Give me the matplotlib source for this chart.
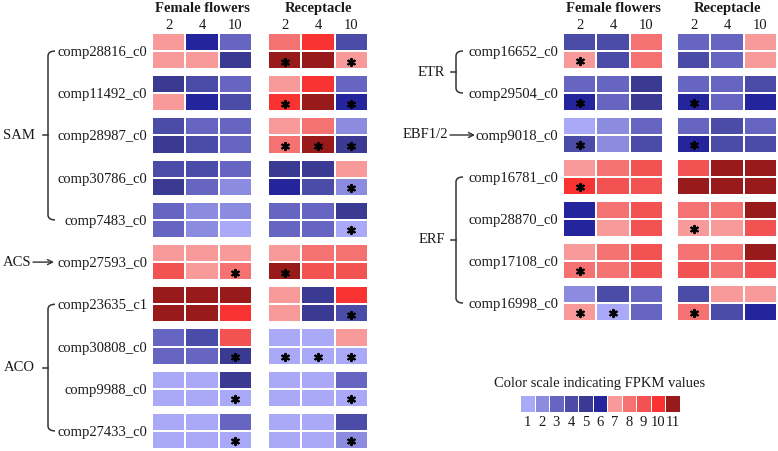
import matplotlib
matplotlib.use("Agg")
import matplotlib.pyplot as plt
from matplotlib.colors import ListedColormap, BoundaryNorm
from matplotlib.path import Path
from matplotlib.patches import PathPatch
import numpy as np

plt.rcParams['font.family'] = ['Liberation Serif', 'DejaVu Serif']

# ---------------- data ----------------
scale_colors = ["#A9A9F7", "#8B8BE0", "#6666C2", "#4B4BA8", "#3A3A92", "#24249C",
                "#F99A9A", "#F57272", "#F25252", "#F93232", "#981A1A"]
scale_values = list(range(1, 12))
time_labels = ["2", "4", "10"]
tissues = ["Female flowers", "Receptacle"]

left_genes = ["comp28816_c0", "comp11492_c0", "comp28987_c0", "comp30786_c0", "comp7483_c0",
              "comp27593_c0", "comp23635_c1", "comp30808_c0", "comp9988_c0", "comp27433_c0"]
left_female = [
    [[7, 6, 3], [7, 7, 5]],
    [[5, 4, 3], [7, 6, 4]],
    [[4, 3, 3], [5, 4, 3]],
    [[4, 4, 3], [5, 3, 2]],
    [[3, 2, 2], [3, 2, 1]],
    [[7, 7, 7], [9, 7, 8]],
    [[11, 11, 11], [11, 11, 10]],
    [[3, 4, 9], [3, 3, 5]],
    [[1, 1, 5], [1, 1, 1]],
    [[1, 1, 3], [1, 1, 1]],
]
left_recept = [
    [[8, 10, 4], [11, 11, 7]],
    [[7, 10, 3], [10, 11, 6]],
    [[7, 8, 2], [8, 11, 5]],
    [[5, 5, 7], [6, 4, 2]],
    [[3, 3, 5], [3, 3, 1]],
    [[7, 8, 8], [11, 9, 9]],
    [[7, 5, 10], [7, 5, 4]],
    [[1, 1, 7], [1, 1, 1]],
    [[1, 1, 3], [1, 1, 1]],
    [[1, 1, 4], [1, 1, 2]],
]
# columns marked with * (second row of each gene)
left_female_sig = [[], [], [], [], [], [2], [], [2], [2], [2]]
left_recept_sig = [[0, 2], [0, 2], [0, 1, 2], [2], [2], [0], [2], [0, 1, 2], [2], [2]]

right_genes = ["comp16652_c0", "comp29504_c0", "comp9018_c0", "comp16781_c0",
               "comp28870_c0", "comp17108_c0", "comp16998_c0"]
right_female = [
    [[4, 4, 8], [7, 4, 8]],
    [[3, 3, 5], [6, 3, 5]],
    [[1, 2, 3], [4, 2, 4]],
    [[7, 8, 9], [10, 9, 9]],
    [[6, 8, 9], [6, 7, 9]],
    [[7, 8, 9], [8, 8, 9]],
    [[2, 4, 3], [7, 1, 3]],
]
right_recept = [
    [[3, 3, 7], [4, 3, 7]],
    [[3, 3, 4], [6, 3, 6]],
    [[3, 4, 3], [6, 4, 4]],
    [[9, 11, 11], [11, 11, 11]],
    [[8, 8, 11], [7, 7, 9]],
    [[8, 8, 11], [9, 8, 9]],
    [[4, 7, 7], [8, 4, 6]],
]
right_female_sig = [[0], [0], [0], [0], [], [0], [0, 1]]
right_recept_sig = [[], [0], [0], [], [0], [], [0]]

# group name, first gene index, last gene index, kind
left_groups = [("SAM", 0, 4, "brace"), ("ACS", 5, 5, "arrow"), ("ACO", 6, 9, "brace")]
right_groups = [("ETR", 0, 1, "brace"), ("EBF1/2", 2, 2, "arrow"), ("ERF", 3, 6, "brace")]

legend_title = "Color scale indicating FPKM values"

# ---------------- figure ----------------
W, H = 778, 451
fig = plt.figure(figsize=(W / 100, H / 100), dpi=100)
ov = fig.add_axes([0, 0, 1, 1])
ov.set_xlim(0, W)
ov.set_ylim(H, 0)
ov.axis('off')

cmap = ListedColormap(scale_colors)
norm = BoundaryNorm(np.arange(0.5, 12.5, 1), cmap.N)
GAP = 1 / 3
FS = 10.5
TXT = '#1a1a1a'


def px_axes(x0, y0, x1, y1):
    return fig.add_axes([x0 / W, 1 - y1 / H, (x1 - x0) / W, (y1 - y0) / H])


def draw_block(ax, blocks, sig, genes=None):
    n = len(blocks)
    for i, blk in enumerate(blocks):
        y0 = i * (2 + GAP)
        ax.pcolormesh(np.arange(4), y0 + np.arange(3), np.array(blk), cmap=cmap, norm=norm,
                      edgecolors='white', linewidth=1.1)
        for c in sig[i]:
            ax.scatter(c + 0.5, y0 + 1.58, marker=(6, 2, 0), s=26, c='black',
                       linewidths=1.6, zorder=5)
    ax.set_xlim(0, 3)
    ax.set_ylim(n * (2 + GAP) - GAP, 0)
    for s in ax.spines.values():
        s.set_visible(False)
    ax.xaxis.tick_top()
    ax.set_xticks([0.5, 1.5, 2.5])
    ax.set_xticklabels(time_labels, fontsize=FS, color=TXT)
    ax.tick_params(axis='x', length=0, pad=0.5)
    centers = [i * (2 + GAP) + 1 for i in range(n)]
    ax.set_yticks(centers)
    if genes is not None:
        ax.set_yticklabels(genes, fontsize=FS, color=TXT)
        ax.tick_params(axis='y', length=0, pad=3.5)
    else:
        ax.set_yticklabels([])
        ax.tick_params(axis='y', length=0)
    ax.set_facecolor('none')
    return centers


def gene_center_px(top, bottom, n, i):
    unit = (bottom - top) / (n * (2 + GAP) - GAP)
    return top + (i * (2 + GAP) + 1) * unit


def brace(x, yt, yb):
    ym = (yt + yb) / 2
    verts = [(x + 7, yt), (x, yt), (x, yt + 5), (x, ym - 2), (x, yb - 5), (x, yb), (x + 7, yb)]
    codes = [Path.MOVETO, Path.CURVE3, Path.CURVE3, Path.LINETO, Path.LINETO, Path.CURVE3, Path.CURVE3]
    ov.add_patch(PathPatch(Path(verts, codes), fill=False, lw=1.1, color='#333333'))
    ov.plot([x - 5, x], [ym, ym], color='#333333', lw=1.1)
    return ym


def panel(x_ff, x_rec, top, bottom, genes, ff, rec, ff_sig, rec_sig, groups, bx, lab_x, arrow_x):
    ax1 = px_axes(x_ff, top, x_ff + 100, bottom)
    draw_block(ax1, ff, ff_sig, genes)
    ax2 = px_axes(x_rec, top, x_rec + 100, bottom)
    draw_block(ax2, rec, rec_sig)
    for name, x0 in zip(tissues, [x_ff, x_rec]):
        ov.text(x0 + 50, 8.5, name, ha='center', va='center', fontsize=FS,
                fontweight='bold', color=TXT)
    n = len(genes)
    for name, i0, i1, kind in groups:
        yt = gene_center_px(top, bottom, n, i0)
        yb = gene_center_px(top, bottom, n, i1)
        if kind == "brace":
            ym = brace(bx, yt, yb)
            ov.text(lab_x, ym, name, ha='right', va='center', fontsize=FS, color=TXT)
        else:
            ov.annotate("", xy=(arrow_x[1], yt), xytext=(arrow_x[0], yt),
                        arrowprops=dict(arrowstyle='->', lw=1.0, color='#333333',
                                        shrinkA=0, shrinkB=0, mutation_scale=9))
            ov.text(arrow_x[0] - 2, yt, name, ha='right', va='center', fontsize=FS, color=TXT)


panel(152, 268, 33, 449, left_genes, left_female, left_recept, left_female_sig, left_recept_sig,
      left_groups, 48, 35, (33, 54))
panel(563, 677, 33, 321, right_genes, right_female, right_recept, right_female_sig, right_recept_sig,
      right_groups, 456, 445, (450, 475))

# ---------------- colour scale legend ----------------
lg = px_axes(520, 395, 680, 412)
lg.pcolormesh(np.arange(0.5, 12.5, 1), [0, 1], np.array([scale_values]), cmap=cmap, norm=norm,
              edgecolors='white', linewidth=0.5)
lg.set_xlim(0.5, 11.5)
lg.set_ylim(0, 1)
lg.set_yticks([])
lg.set_xticks(scale_values)
lg.set_xticklabels([str(v) for v in scale_values], fontsize=FS, color=TXT)
lg.tick_params(axis='x', length=0, pad=3)
for s in lg.spines.values():
    s.set_visible(False)
ov.text(600, 384, legend_title, ha='center', va='center', fontsize=FS, color=TXT)

fig.savefig("out.png", dpi=100)
